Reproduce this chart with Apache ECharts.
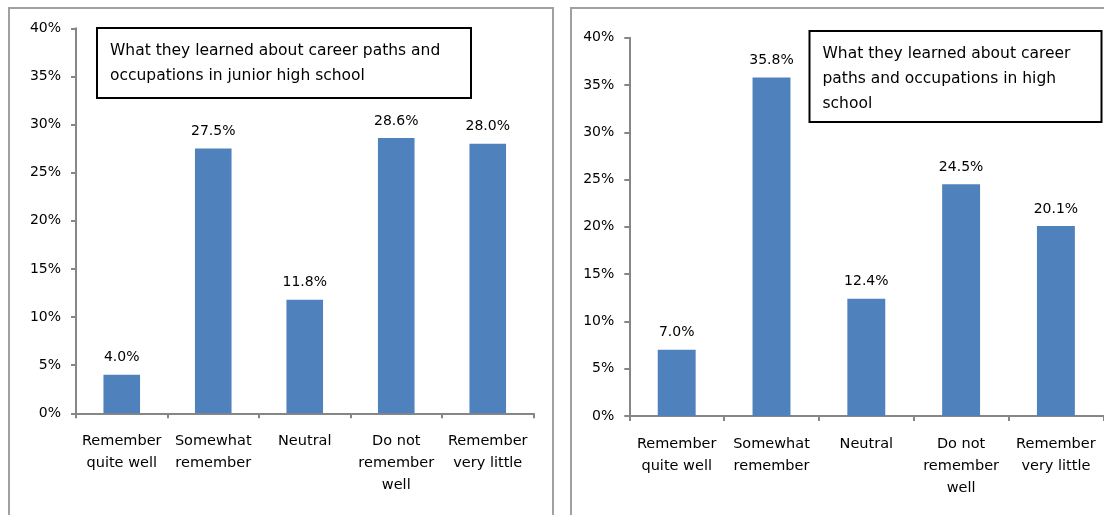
<!DOCTYPE html>
<html>
<head>
<meta charset="utf-8">
<script src="https://cdn.jsdelivr.net/npm/echarts@6/dist/echarts.min.js"></script>
<style>
  html, body { margin: 0; padding: 0; background: #ffffff; }
  #chart { width: 1104px; height: 515px; }
</style>
</head>
<body>
<div id="chart"></div>
<script>
// Survey answers: how well respondents remember career guidance
const categories = ['Remember\nquite well', 'Somewhat\nremember', 'Neutral', 'Do not\nremember\nwell', 'Remember\nvery little'];
const juniorHighValues = [4.0, 27.5, 11.8, 28.6, 28.0];
const highSchoolValues = [7.0, 35.8, 12.4, 24.5, 20.1];
const yTicks = { min: 0, max: 40, interval: 5 };
const juniorHighTitle = 'What they learned about career paths and\noccupations in junior high school';
const highSchoolTitle = 'What they learned about career\npaths and occupations in high\nschool';

const FONT = 'DejaVu Sans';
const AXIS_GREY = '#868686';
const BAR_BLUE = '#4F81BD';

function xAxisFor(gridIndex) {
  return {
    type: 'category',
    gridIndex: gridIndex,
    data: categories,
    axisLine: { lineStyle: { color: AXIS_GREY, width: 2 } },
    axisTick: { show: true, length: 5, lineStyle: { color: AXIS_GREY, width: 2 } },
    axisLabel: {
      interval: 0, margin: 17, color: '#000', fontFamily: FONT, fontSize: 14.5, lineHeight: 22
    }
  };
}

function yAxisFor(gridIndex) {
  return {
    type: 'value',
    gridIndex: gridIndex,
    min: yTicks.min, max: yTicks.max, interval: yTicks.interval,
    axisLine: { show: true, lineStyle: { color: AXIS_GREY, width: 2 } },
    axisTick: { show: true, length: 5, lineStyle: { color: AXIS_GREY, width: 2 } },
    splitLine: { show: false },
    axisLabel: {
      formatter: '{value}%', margin: 15, color: '#000', fontFamily: FONT, fontSize: 14
    }
  };
}

function barSeries(index, values) {
  return {
    type: 'bar',
    xAxisIndex: index, yAxisIndex: index,
    data: values,
    barCategoryGap: '60%',
    itemStyle: { color: BAR_BLUE },
    label: {
      show: true, position: 'top', distance: 10,
      color: '#000', fontFamily: FONT, fontSize: 14,
      formatter: p => p.value.toFixed(1) + '%'
    }
  };
}

function noteBox(x, y, w, h, text) {
  return {
    type: 'group',
    children: [
      { type: 'rect', shape: { x: x, y: y, width: w, height: h },
        style: { fill: '#fff', stroke: '#000', lineWidth: 2 }, z: 10 },
      { type: 'text', x: x + 13, y: y + 10,
        style: { text: text, fill: '#000', font: '15.5px "' + FONT + '"', lineHeight: 25 }, z: 11 }
    ]
  };
}

const chart = echarts.init(document.getElementById('chart'), null, { renderer: 'canvas' });
chart.setOption({
  animation: false,
  grid: [
    { left: 76, top: 28.3, width: 457.5, height: 385 },
    { left: 629.3, top: 37.7, width: 474, height: 378.3 }
  ],
  xAxis: [xAxisFor(0), xAxisFor(1)],
  yAxis: [yAxisFor(0), yAxisFor(1)],
  series: [barSeries(0, juniorHighValues), barSeries(1, highSchoolValues)],
  graphic: [
    { type: 'rect', shape: { x: 9, y: 8, width: 544, height: 530 },
      style: { fill: 'none', stroke: '#a0a0a0', lineWidth: 2 }, z: -1 },
    { type: 'rect', shape: { x: 571, y: 8, width: 560, height: 530 },
      style: { fill: 'none', stroke: '#a0a0a0', lineWidth: 2 }, z: -1 },
    noteBox(97, 28, 374, 70, juniorHighTitle),
    noteBox(809.5, 31, 292, 91, highSchoolTitle)
  ]
});
</script>
</body>
</html>
